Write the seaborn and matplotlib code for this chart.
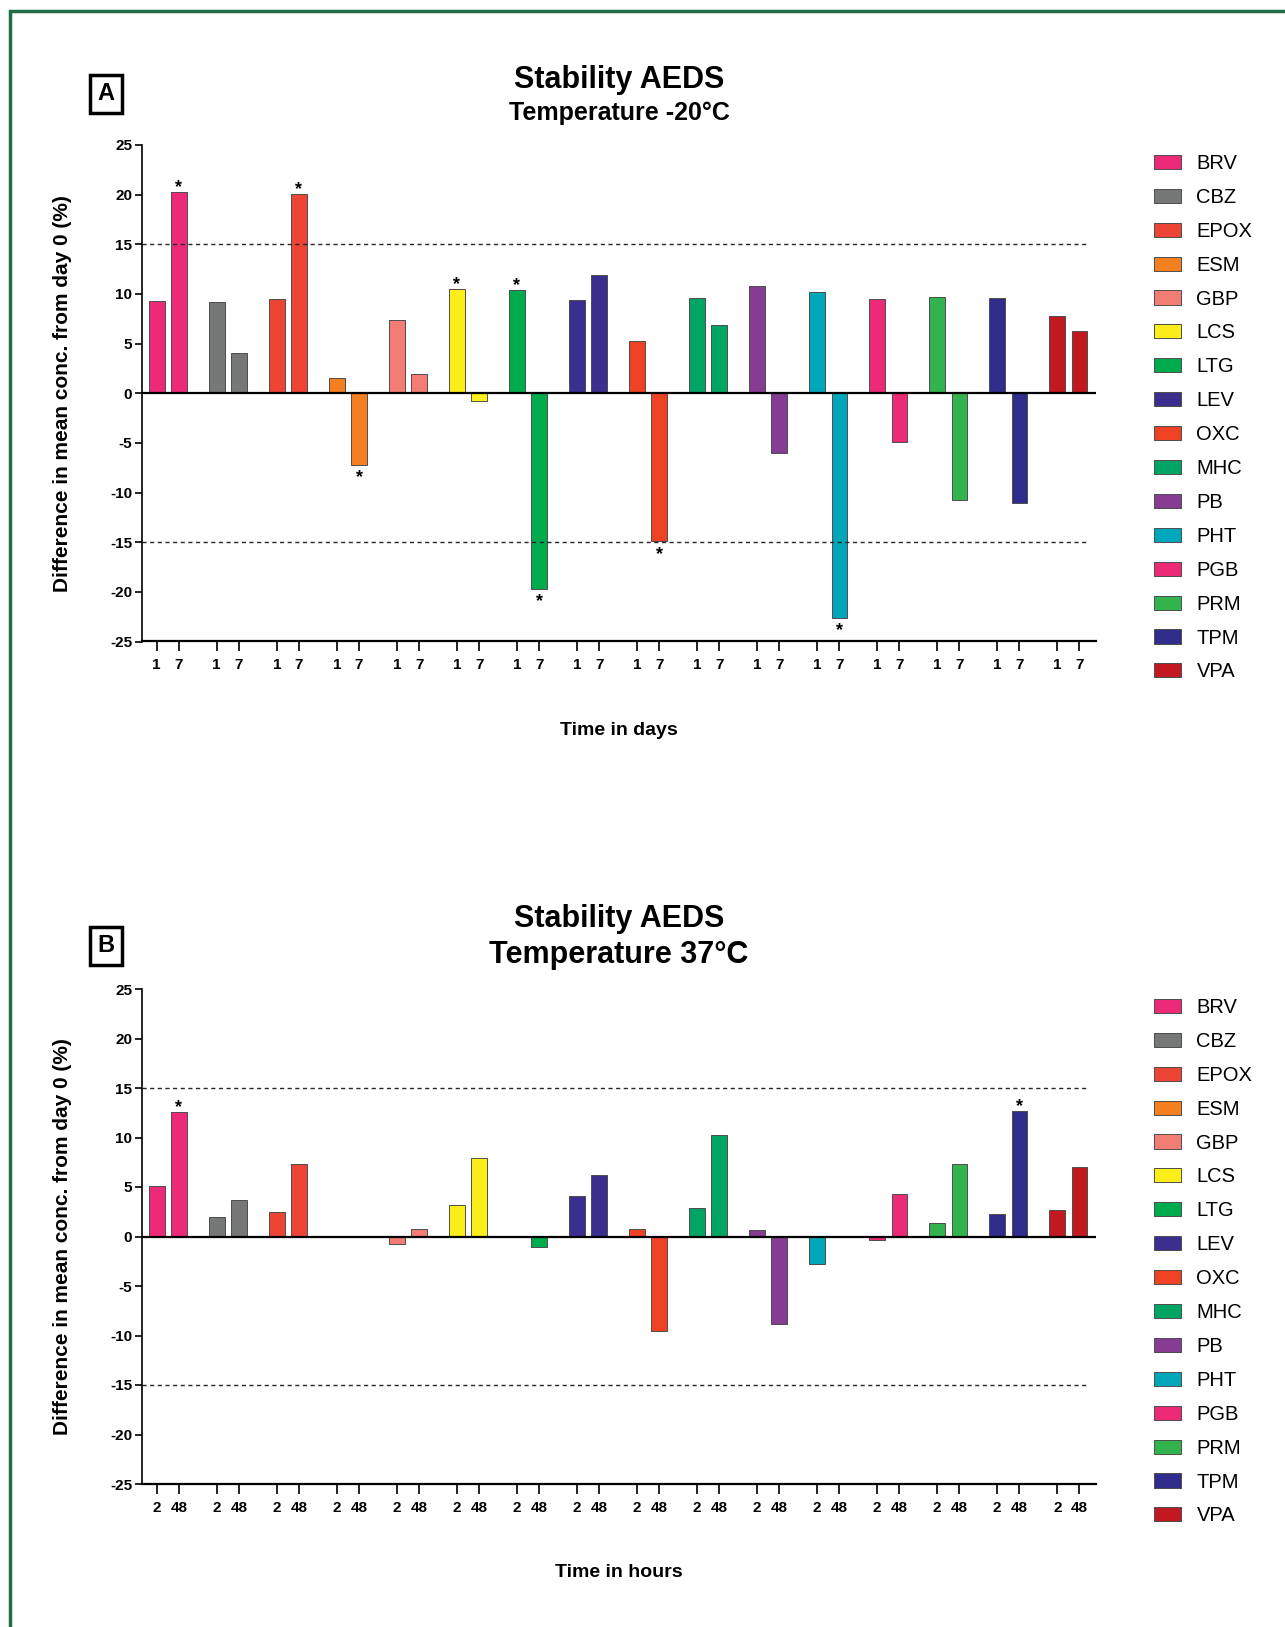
import numpy as np
import pandas as pd
import matplotlib
matplotlib.use('Agg')
import matplotlib.pyplot as plt
import seaborn as sns
from matplotlib.patches import Rectangle


drugs = ['BRV', 'CBZ', 'EPOX', 'ESM', 'GBP', 'LCS', 'LTG', 'LEV',
         'OXC', 'MHC', 'PB', 'PHT', 'PGB', 'PRM', 'TPM', 'VPA']
drug_colors = ['#EC2A78', '#767878', '#EE4436', '#F47F20', '#F37D75', '#FCEE1A',
               '#00AB4E', '#3A2E8F', '#EF4225', '#00A564', '#873C93', '#00A7BA',
               '#ED2A76', '#33B34D', '#302D8D', '#C2181F']

# Panel A: -20 C, day 1 and day 7
a_day1 = [9.3, 9.2, 9.5, 1.5, 7.4, 10.5, 10.4, 9.4, 5.3, 9.6, 10.8, 10.2, 9.5, 9.7, 9.6, 7.8]
a_day7 = [20.3, 4.1, 20.1, -7.2, 1.9, -0.8, -19.7, 11.9, -14.9, 6.9, -6.0, -22.6, -4.9, -10.8, -11.1, 6.3]
a_sig1 = ['LCS', 'LTG']
a_sig7 = ['BRV', 'EPOX', 'ESM', 'LTG', 'OXC', 'PHT']
a_ticks = ['1', '7']

# Panel B: 37 C, 2 h and 48 h
b_2h = [5.1, 2.0, 2.5, 0.0, -0.8, 3.2, -0.1, 4.1, 0.8, 2.9, 0.7, -2.8, -0.4, 1.4, 2.3, 2.7]
b_48h = [12.6, 3.7, 7.3, -0.1, 0.8, 7.9, -1.1, 6.2, -9.5, 10.3, -8.8, 0.0, 4.3, 7.3, 12.7, 7.0]
b_sig1 = []
b_sig2 = ['BRV', 'TPM']
b_ticks = ['2', '48']

ylabel = 'Difference in mean conc. from day 0 (%)'

sns.set_theme(style='ticks')
plt.rcParams['font.family'] = ['Liberation Sans', 'DejaVu Sans']
plt.rcParams['axes.unicode_minus'] = False
for k in ('text.color', 'axes.labelcolor', 'xtick.color', 'ytick.color', 'axes.edgecolor'):
    plt.rcParams[k] = 'black'

W, H = 1285, 1627
fig = plt.figure(figsize=(W / 100, H / 100), dpi=100)


def fx(px):
    return px / W


def fy(px):
    return 1 - px / H


def draw_panel(top, bottom, first, second, sig1, sig2, ticks, subtitle, subsize,
               xlabel, letter, title_y, sub_y, letter_y):
    left, right = 142, 1096
    ax = fig.add_axes([fx(left), fy(bottom), (right - left) / W, (bottom - top) / H])

    off = 0.185
    pos1 = np.arange(len(drugs)) - off
    pos2 = np.arange(len(drugs)) + off
    df = pd.DataFrame({
        'drug': drugs * 2,
        'pos': np.r_[pos1, pos2],
        'val': first + second,
    })
    sns.barplot(data=df, x='pos', y='val', hue='drug', hue_order=drugs,
                palette=drug_colors, native_scale=True, dodge=False, width=0.703,
                saturation=1, errorbar=None, edgecolor='0.3', linewidth=0.7, ax=ax)

    ax.axhline(0, color='black', lw=1.6, zorder=3)
    for lev in (15, -15):
        ax.axhline(lev, color='0.15', lw=1.0, ls=(0, (3, 2.5)), xmax=0.99, zorder=1)

    # significance stars
    for i, d in enumerate(drugs):
        for p, v, sig in ((pos1[i], first[i], sig1), (pos2[i], second[i], sig2)):
            if d in sig:
                if v > 0:
                    ax.text(p, v - 0.45, '*', ha='center', va='bottom', fontsize=13, weight='bold')
                else:
                    ax.text(p, v - 0.45, '*', ha='center', va='top', fontsize=13, weight='bold')

    ax.set_xlim(-0.43, 15.46)
    ax.set_ylim(-25, 25)
    ax.set_yticks(np.arange(-25, 26, 5))
    xt = np.sort(np.r_[pos1, pos2])
    ax.set_xticks(xt)
    ax.set_xticklabels(ticks * len(drugs))
    ax.tick_params(axis='x', length=7, width=1.2, pad=5, labelsize=11)
    ax.tick_params(axis='y', length=5, width=1.2, pad=2, labelsize=11)
    for t in ax.get_xticklabels() + ax.get_yticklabels():
        t.set_fontweight('bold')
    sns.despine(ax=ax)
    ax.spines['left'].set_linewidth(1.2)
    ax.spines['bottom'].set_linewidth(1.6)

    ax.set_ylabel(ylabel, fontsize=15, weight='bold')
    ax.yaxis.set_label_coords(-0.073, 0.5)
    ax.set_xlabel(xlabel, fontsize=14, weight='bold')
    ax.xaxis.set_label_coords(0.5, -0.162)

    sns.move_legend(ax, 'upper left', bbox_to_anchor=(1.061, 0.982), frameon=False,
                    title=None, fontsize=14.5, handlelength=1.35, handleheight=0.7,
                    handletextpad=0.75, labelspacing=0.74, borderaxespad=0, borderpad=0)

    cx = fx((left + right) / 2)
    fig.text(cx, fy(title_y), 'Stability AEDS', ha='center', va='center',
             fontsize=22, weight='bold')
    fig.text(cx, fy(sub_y), subtitle, ha='center', va='center',
             fontsize=subsize, weight='bold')
    fig.text(fx(106), fy(letter_y), letter, ha='center', va='center', fontsize=17,
             weight='bold', bbox=dict(boxstyle='square,pad=0.3', fc='white', ec='black', lw=2.5))
    return ax


draw_panel(145, 641.5, a_day1, a_day7, a_sig1, a_sig7, a_ticks,
           'Temperature -20°C', 18, 'Time in days', 'A', 80, 113, 94)
draw_panel(989, 1484, b_2h, b_48h, b_sig1, b_sig2, b_ticks,
           'Temperature 37°C', 22, 'Time in hours', 'B', 919, 955, 946)

# green frame around the figure
fig.patches.append(Rectangle((fx(10), -0.05), 1.2, fy(11) + 0.05, transform=fig.transFigure,
                             fill=False, ec='#1f6e45', lw=2.5))

fig.savefig('out.png', dpi=100)
